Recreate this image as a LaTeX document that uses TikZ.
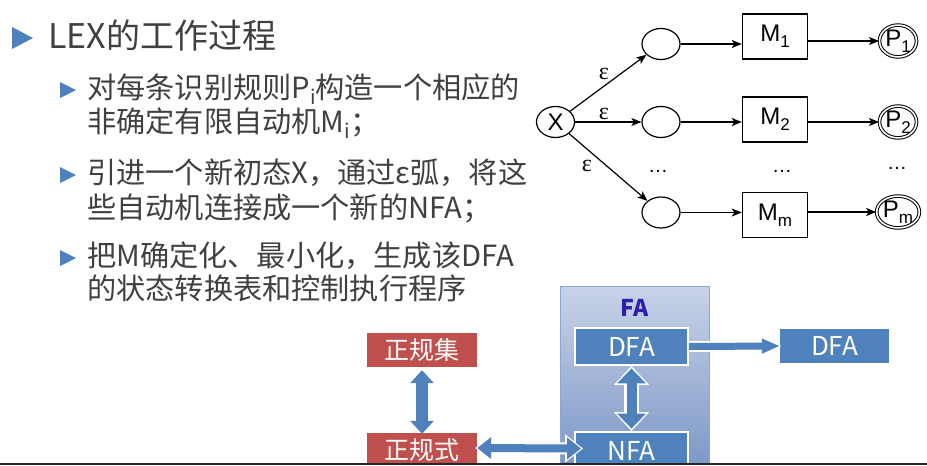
\documentclass[tikz,border=0pt]{standalone}
\usepackage{fontspec}
\setmainfont{Noto Sans CJK SC}
\newfontfamily\arialf{Liberation Sans}
\newfontfamily\timesf{Liberation Serif}
\usetikzlibrary{arrows.meta,shapes.geometric,calc}
\definecolor{txt}{RGB}{64,64,64}
\definecolor{bul}{RGB}{79,129,189}
\definecolor{fablue}{RGB}{79,129,189}
\definecolor{fared}{RGB}{192,80,77}
\definecolor{fatitle}{RGB}{48,30,170}
\definecolor{paneltop}{RGB}{200,211,232}
\definecolor{panelbot}{RGB}{118,146,196}
\definecolor{panelline}{RGB}{140,165,210}
\newcommand{\lowsub}[1]{\raisebox{-6pt}{\fontsize{20}{20}\selectfont #1}}
\newcommand{\dsub}[1]{\raisebox{-6pt}{\fontsize{17}{17}\selectfont #1}}
\begin{document}
\begin{tikzpicture}[x=1pt,y=-1pt,
  linetext/.style={anchor=base west, inner sep=0, text=txt, font=\fontsize{29.2}{29.2}\selectfont},
  state/.style={ellipse, draw, line width=1.2pt, minimum width=38pt, minimum height=31pt, inner sep=0, font=\arialf\fontsize{24}{24}\selectfont},
  mbox/.style={rectangle, draw, line width=1.4pt, minimum width=65pt, minimum height=45pt, inner sep=0, font=\arialf\fontsize{24}{24}\selectfont},
  final/.style={ellipse, draw, line width=1pt, double, double distance=1.6pt, minimum width=37pt, minimum height=26pt, inner sep=0, font=\arialf\fontsize{24}{24}\selectfont},
  tr/.style={-{Stealth[length=10pt,width=8pt,inset=2.5pt]}, line width=1.2pt},
  eps/.style={inner sep=0, font=\timesf\fontsize{24}{24}\selectfont},
  dots/.style={inner sep=0, font=\arialf\fontsize{20}{20}\selectfont},
  rbox/.style={fill=fared, text=white, minimum width=110pt, minimum height=34pt, inner sep=0, font=\fontsize{25}{25}\selectfont},
  bbox/.style={fill=fablue, draw=white, line width=1.8pt, minimum width=113pt, minimum height=37pt, inner sep=0, text=white, font=\fontsize{26}{26}\selectfont},
]
\useasboundingbox (0,0) rectangle (927,466);

% ---- bullets and text ----
\fill[bul] (12,27) -- (12,49) -- (33,38) -- cycle;
\node[anchor=base west, inner sep=0, text=txt, font=\fontsize{34}{34}\selectfont] (title) at (48,48) {LEX的工作过程};

\fill[bul] (60,82) -- (60,98) -- (76,90) -- cycle;
\node[linetext] (l1a) at (87,98) {对每条识别规则P\lowsub{i}构造一个相应的};
\node[linetext] (l1b) at (87,132) {非确定有限自动机M\lowsub{i}；};

\fill[bul] (60,167) -- (60,183) -- (76,175) -- cycle;
\node[linetext] (l2a) at (87,183) {引进一个新初态X，通过ε弧，将这};
\node[linetext] (l2b) at (87,218) {些自动机连接成一个新的NFA；};

\fill[bul] (60,250) -- (60,266) -- (76,258) -- cycle;
\node[linetext] (l3a) at (87,266) {把M确定化、最小化，生成该DFA};
\node[linetext] (l3b) at (87,299) {的状态转换表和控制执行程序};

% ---- NFA construction diagram ----
\node[state] (X) at (555.5,122) {X};
\node[state] (e1) at (661,44) {};
\node[state] (e2) at (661,122) {};
\node[state] (e3) at (661,212.5) {};
\node[mbox] (M1) at (775,36.5) {M\dsub{1}};
\node[mbox] (M2) at (775,119.5) {M\dsub{2}};
\node[mbox] (Mm) at (775,215) {M\dsub{m}};
\node[final] (P1) at (898,41) {P\dsub{1}};
\node[final] (P2) at (898,122) {P\dsub{2}};
\node[final] (Pm) at (898,212) {P\dsub{m}};

\draw[tr] (X) -- (e1);
\draw[tr] (X) -- (e2);
\draw[tr] (X) -- (e3);
\draw[tr] (e1.east) -- (e1.east -| M1.west);
\draw[tr] (e2.east) -- (e2.east -| M2.west);
\draw[tr] (e3.east) -- (e3.east -| Mm.west);
\draw[tr] (M1.east |- P1) -- (P1);
\draw[tr] (M2.east |- P2) -- (P2);
\draw[tr] (Mm.east |- Pm) -- (Pm);

\node[eps] (eps1) at (604,74) {ε};
\node[eps] (eps2) at (604,114) {ε};
\node[eps] (eps3) at (587,166) {ε};
\node[dots] (d1) at (658,171) {…};
\node[dots] (d2) at (782,171) {…};
\node[dots] (d3) at (897,168) {…};

% ---- bottom diagram ----
\node[rectangle, top color=paneltop, bottom color=panelbot, draw=panelline, line width=0.8pt,
      minimum width=149pt, minimum height=196pt, inner sep=0] (fa) at (634.5,384) {};
\node[inner sep=0, text=fatitle, font=\bfseries\fontsize{23}{23}\selectfont] (fatxt) at (635,308) {FA};
\node[bbox] (dfa) at (631.5,346.5) {DFA};
\node[bbox] (nfa) at (631.5,450.5) {NFA};
\node[fill=fablue, minimum width=109pt, minimum height=34pt, inner sep=0, text=white, font=\fontsize{26}{26}\selectfont] (dfa2) at (834.5,346) {DFA};
\node[rbox] (zgj) at (422,350) {正规集};
\node[rbox] (zgs) at (422,450) {正规式};

% regular set <-> regular expression
\draw[fablue, line width=12pt, {Triangle[length=13pt,width=23pt]}-{Triangle[length=13pt,width=23pt]}, shorten <=3pt, shorten >=-1pt] (zgj.south) -- (zgs.north);
% regular expression <-> NFA
\draw[white, line width=12pt, {Triangle[length=18pt,width=27pt]}-{Triangle[length=18pt,width=27pt]}, shorten <=-2pt, shorten >=-9pt] ([yshift=2pt]zgs.east) -- ([yshift=2pt]nfa.west);
\draw[fablue, line width=8pt, {Triangle[length=14pt,width=21pt]}-{Triangle[length=14pt,width=21pt]}, shorten <=0pt, shorten >=-7pt] ([yshift=2pt]zgs.east) -- ([yshift=2pt]nfa.west);
% DFA <-> NFA
\draw[white, line width=15pt, {Triangle[length=19pt,width=34pt]}-{Triangle[length=19pt,width=34pt]}] (dfa.south) -- (nfa.north);
\draw[fablue, line width=10pt, {Triangle[length=15pt,width=28pt]}-{Triangle[length=15pt,width=28pt]}, shorten <=2.5pt, shorten >=2.5pt] (dfa.south) -- (nfa.north);
% DFA -> DFA
\draw[white, line width=11pt, -{Triangle[length=21pt,width=19pt]}, shorten >=-2pt] (dfa.east) -- (dfa2.west);
\draw[fablue, line width=7pt, -{Triangle[length=18pt,width=14pt]}] (dfa.east) -- (dfa2.west);

% bottom rule
\fill[white] (0,465) rectangle (927,470);
\draw[line width=2pt, black!85] (0,464) -- (927,464);
\end{tikzpicture}
\end{document}
